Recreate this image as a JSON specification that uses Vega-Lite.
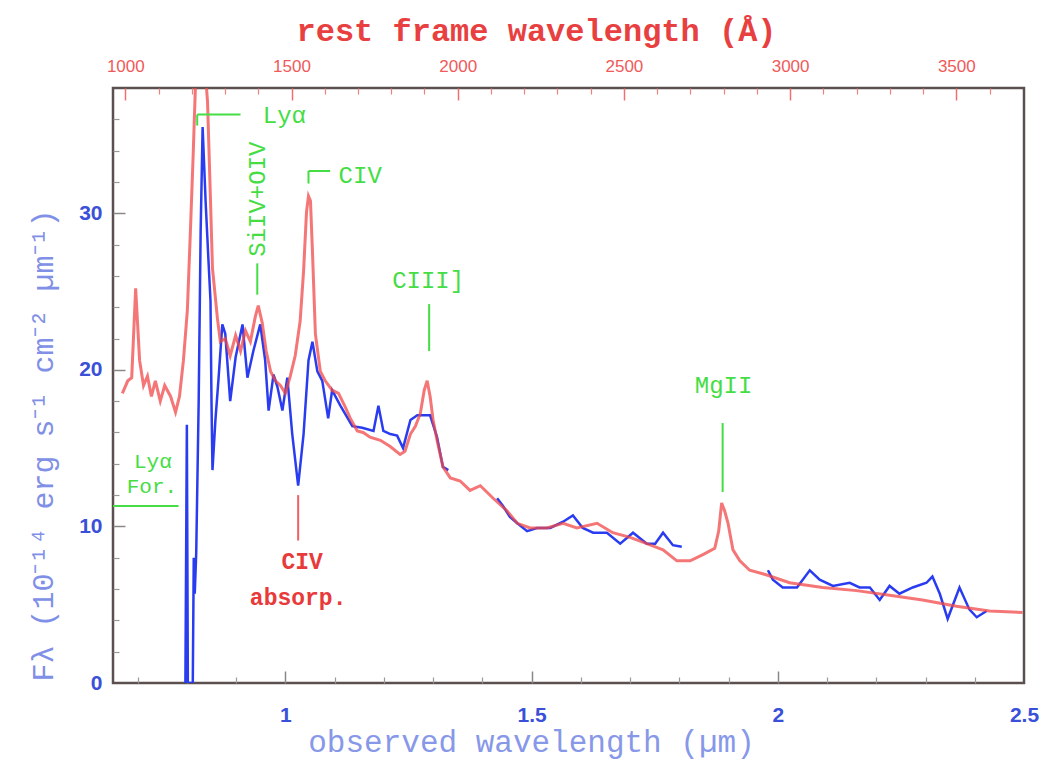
{
  "$schema": "https://vega.github.io/schema/vega-lite/v6.json",
  "width": 911,
  "height": 595,
  "autosize": "none",
  "padding": {"left": 113, "top": 88, "right": 15, "bottom": 78},
  "background": "white",
  "config": {"view": {"stroke": "#5b4f4f", "strokeWidth": 2.5}},
  "datasets": {
    "red": [
      {"w":0.669,"f":18.5},{"w":0.680,"f":19.3},{"w":0.688,"f":19.5},{"w":0.696,"f":25.2},{"w":0.704,"f":20.6},{"w":0.712,"f":19.0},{"w":0.720,"f":19.6},{"w":0.728,"f":18.3},{"w":0.736,"f":19.3},{"w":0.746,"f":18.0},{"w":0.755,"f":19.0},{"w":0.767,"f":18.3},{"w":0.777,"f":17.3},{"w":0.785,"f":18.3},{"w":0.793,"f":20.6},{"w":0.801,"f":23.8},{"w":0.807,"f":28.7},{"w":0.813,"f":33.9},{"w":0.819,"f":39.7},{"w":0.828,"f":41.0},{"w":0.836,"f":39.7},{"w":0.842,"f":37.1},{"w":0.848,"f":30.8},{"w":0.852,"f":26.5},{"w":0.862,"f":23.3},{"w":0.868,"f":21.8},{"w":0.878,"f":22.0},{"w":0.888,"f":20.9},{"w":0.899,"f":22.2},{"w":0.909,"f":21.2},{"w":0.919,"f":22.5},{"w":0.929,"f":21.8},{"w":0.939,"f":23.4},{"w":0.945,"f":24.1},{"w":0.953,"f":23.0},{"w":0.961,"f":21.2},{"w":0.970,"f":19.9},{"w":0.980,"f":19.3},{"w":0.990,"f":19.0},{"w":1.000,"f":18.5},{"w":1.010,"f":19.6},{"w":1.020,"f":20.9},{"w":1.030,"f":23.1},{"w":1.037,"f":26.3},{"w":1.043,"f":30.1},{"w":1.047,"f":31.1},{"w":1.051,"f":30.8},{"w":1.055,"f":27.6},{"w":1.061,"f":22.3},{"w":1.071,"f":19.9},{"w":1.081,"f":19.3},{"w":1.095,"f":18.7},{"w":1.108,"f":18.5},{"w":1.122,"f":17.6},{"w":1.132,"f":16.9},{"w":1.146,"f":16.1},{"w":1.158,"f":16.0},{"w":1.172,"f":15.7},{"w":1.193,"f":15.5},{"w":1.213,"f":15.1},{"w":1.233,"f":14.6},{"w":1.243,"f":14.8},{"w":1.254,"f":15.9},{"w":1.264,"f":16.4},{"w":1.274,"f":17.2},{"w":1.282,"f":18.7},{"w":1.288,"f":19.3},{"w":1.294,"f":18.3},{"w":1.300,"f":16.8},{"w":1.308,"f":15.5},{"w":1.320,"f":13.8},{"w":1.335,"f":13.1},{"w":1.355,"f":12.9},{"w":1.375,"f":12.3},{"w":1.396,"f":12.6},{"w":1.422,"f":11.8},{"w":1.450,"f":11.0},{"w":1.471,"f":10.2},{"w":1.497,"f":9.9},{"w":1.531,"f":9.9},{"w":1.564,"f":10.2},{"w":1.592,"f":9.9},{"w":1.633,"f":10.2},{"w":1.665,"f":9.6},{"w":1.700,"f":9.3},{"w":1.734,"f":8.9},{"w":1.767,"f":8.5},{"w":1.795,"f":7.8},{"w":1.822,"f":7.8},{"w":1.848,"f":8.2},{"w":1.872,"f":8.6},{"w":1.880,"f":9.7},{"w":1.886,"f":11.5},{"w":1.892,"f":11.0},{"w":1.899,"f":10.2},{"w":1.909,"f":8.5},{"w":1.923,"f":7.8},{"w":1.943,"f":7.2},{"w":1.978,"f":6.9},{"w":2.024,"f":6.4},{"w":2.091,"f":6.1},{"w":2.160,"f":5.9},{"w":2.227,"f":5.6},{"w":2.294,"f":5.3},{"w":2.363,"f":4.9},{"w":2.430,"f":4.6},{"w":2.497,"f":4.5}
    ],
    "blue": [
      {"w":0.797,"f":0,"seg":1},{"w":0.800,"f":16.5,"seg":1},{"w":0.802,"f":0,"seg":1},{"w":0.812,"f":0,"seg":1},{"w":0.814,"f":8.0,"seg":1},{"w":0.816,"f":5.7,"seg":1},{"w":0.819,"f":8.3,"seg":1},{"w":0.824,"f":18.0,"seg":1},{"w":0.828,"f":28.9,"seg":1},{"w":0.832,"f":35.5,"seg":1},{"w":0.838,"f":30.8,"seg":1},{"w":0.844,"f":26.9,"seg":1},{"w":0.848,"f":24.4,"seg":1},{"w":0.850,"f":18.0,"seg":1},{"w":0.852,"f":13.6,"seg":1},{"w":0.858,"f":16.8,"seg":1},{"w":0.864,"f":19.3,"seg":1},{"w":0.872,"f":22.9,"seg":1},{"w":0.878,"f":22.3,"seg":1},{"w":0.888,"f":18.0,"seg":1},{"w":0.899,"f":20.8,"seg":1},{"w":0.913,"f":22.9,"seg":1},{"w":0.923,"f":19.5,"seg":1},{"w":0.935,"f":21.2,"seg":1},{"w":0.949,"f":22.9,"seg":1},{"w":0.959,"f":20.6,"seg":1},{"w":0.966,"f":17.4,"seg":1},{"w":0.976,"f":19.7,"seg":1},{"w":0.984,"f":18.9,"seg":1},{"w":0.994,"f":17.4,"seg":1},{"w":1.004,"f":19.5,"seg":1},{"w":1.014,"f":15.9,"seg":1},{"w":1.026,"f":12.6,"seg":1},{"w":1.037,"f":15.9,"seg":1},{"w":1.047,"f":20.6,"seg":1},{"w":1.055,"f":21.8,"seg":1},{"w":1.065,"f":19.9,"seg":1},{"w":1.075,"f":19.3,"seg":1},{"w":1.087,"f":16.9,"seg":1},{"w":1.095,"f":18.7,"seg":1},{"w":1.112,"f":17.7,"seg":1},{"w":1.136,"f":16.4,"seg":1},{"w":1.156,"f":16.3,"seg":1},{"w":1.179,"f":16.1,"seg":1},{"w":1.189,"f":17.7,"seg":1},{"w":1.199,"f":16.1,"seg":1},{"w":1.213,"f":15.9,"seg":1},{"w":1.227,"f":15.8,"seg":1},{"w":1.239,"f":15.0,"seg":1},{"w":1.254,"f":16.8,"seg":1},{"w":1.268,"f":17.1,"seg":1},{"w":1.294,"f":17.1,"seg":1},{"w":1.308,"f":15.7,"seg":1},{"w":1.320,"f":13.8,"seg":1},{"w":1.331,"f":13.6,"seg":1},
      {"w":1.430,"f":11.8,"seg":2},{"w":1.442,"f":11.3,"seg":2},{"w":1.456,"f":10.6,"seg":2},{"w":1.471,"f":10.2,"seg":2},{"w":1.491,"f":9.7,"seg":2},{"w":1.511,"f":9.9,"seg":2},{"w":1.538,"f":9.9,"seg":2},{"w":1.564,"f":10.3,"seg":2},{"w":1.584,"f":10.7,"seg":2},{"w":1.604,"f":9.9,"seg":2},{"w":1.625,"f":9.6,"seg":2},{"w":1.653,"f":9.6,"seg":2},{"w":1.680,"f":8.9,"seg":2},{"w":1.706,"f":9.6,"seg":2},{"w":1.734,"f":8.9,"seg":2},{"w":1.751,"f":8.9,"seg":2},{"w":1.767,"f":9.6,"seg":2},{"w":1.787,"f":8.8,"seg":2},{"w":1.805,"f":8.7,"seg":2},
      {"w":1.980,"f":7.2,"seg":3},{"w":1.990,"f":6.6,"seg":3},{"w":2.010,"f":6.1,"seg":3},{"w":2.039,"f":6.1,"seg":3},{"w":2.065,"f":7.2,"seg":3},{"w":2.085,"f":6.6,"seg":3},{"w":2.112,"f":6.2,"seg":3},{"w":2.146,"f":6.4,"seg":3},{"w":2.166,"f":6.1,"seg":3},{"w":2.187,"f":6.1,"seg":3},{"w":2.207,"f":5.3,"seg":3},{"w":2.227,"f":6.2,"seg":3},{"w":2.247,"f":5.7,"seg":3},{"w":2.274,"f":6.1,"seg":3},{"w":2.302,"f":6.4,"seg":3},{"w":2.314,"f":6.8,"seg":3},{"w":2.329,"f":5.7,"seg":3},{"w":2.345,"f":4.1,"seg":3},{"w":2.369,"f":6.1,"seg":3},{"w":2.389,"f":4.7,"seg":3},{"w":2.404,"f":4.2,"seg":3},{"w":2.424,"f":4.6,"seg":3}
    ],
    "greenRules": [
      {"x1":0.821,"x2":0.909,"y1":36.3,"y2":36.3},
      {"x1":0.821,"x2":0.821,"y1":36.3,"y2":35.6},
      {"x1":0.943,"x2":0.943,"y1":26.8,"y2":24.8},
      {"x1":1.047,"x2":1.047,"y1":32.7,"y2":31.9},
      {"x1":1.047,"x2":1.091,"y1":32.7,"y2":32.7},
      {"x1":1.292,"x2":1.292,"y1":24.2,"y2":21.2},
      {"x1":1.888,"x2":1.888,"y1":16.6,"y2":12.2},
      {"x1":0.650,"x2":0.783,"y1":11.3,"y2":11.3}
    ],
    "greenText": [
      {"x":0.998,"y":36.2,"label":"Lyα"},
      {"x":1.152,"y":32.4,"label":"CIV"},
      {"x":1.290,"y":25.7,"label":"CIII]"},
      {"x":1.890,"y":19.0,"label":"MgII"}
    ],
    "forestText": [
      {"x":0.731,"y":14.1,"label":"Lyα"},
      {"x":0.729,"y":12.5,"label":"For."}
    ],
    "greenRotText": [
      {"x":0.945,"y":30.9,"label":"SiIV+OIV"}
    ],
    "redRules": [
      {"x1":1.026,"x2":1.026,"y1":12.0,"y2":9.1}
    ],
    "redText": [
      {"x":1.034,"y":7.7,"label":"CIV"},
      {"x":1.026,"y":5.4,"label":"absorp."}
    ]
  },
  "resolve": {"axis": {"x": "independent", "y": "independent"}},
  "layer": [
    {
      "data": {"name": "blue"},
      "mark": {"type": "line", "color": "#2a3cf0", "strokeWidth": 2.5, "clip": true},
      "encoding": {
        "x": {"field": "w", "type": "quantitative", "scale": {"domain": [0.65, 2.5], "nice": false, "zero": false},
          "axis": {"orient": "bottom", "values": [1, 1.5, 2, 2.5], "ticks": false, "domain": false, "grid": false,
            "labelFont": "Liberation Sans", "labelFontWeight": "bold", "labelFontSize": 21, "labelColor": "#3a50d8",
            "labelPadding": 21, "labelFlush": false, "labelExpr": "datum.value == 1 ? '1' : datum.value == 2 ? '2' : datum.label",
            "title": "observed wavelength (µm)", "titleFont": "Liberation Mono", "titleFontSize": 31, "titleFontWeight": "normal",
            "titleColor": "#8898e8", "titleX": 418, "titleY": 68, "titleAlign": "center", "titleBaseline": "alphabetic"}},
        "y": {"field": "f", "type": "quantitative", "scale": {"domain": [0, 38], "nice": false, "zero": false},
          "axis": {"orient": "left", "values": [0, 10, 20, 30], "ticks": false, "domain": false, "grid": false,
            "labelFont": "Liberation Sans", "labelFontWeight": "bold", "labelFontSize": 21, "labelColor": "#3a50d8",
            "labelPadding": 11, "labelFlush": false,
            "title": "Fλ (10⁻¹⁴ erg s⁻¹ cm⁻² µm⁻¹)", "titleFont": "Liberation Mono", "titleFontSize": 30, "titleFontWeight": "normal",
            "titleColor": "#8090e6", "titleX": -70, "titleY": 357, "titleAngle": 270, "titleAlign": "center", "titleBaseline": "middle"}},
        "detail": {"field": "seg"}
      }
    },
    {
      "data": {"name": "red"},
      "mark": {"type": "line", "color": "#f04848", "opacity": 0.75, "strokeWidth": 3, "clip": true},
      "encoding": {
        "x": {"field": "w", "type": "quantitative", "scale": {"domain": [0.65, 2.5], "nice": false, "zero": false},
          "axis": {"orient": "bottom", "values": [1, 1.5, 2], "labels": false, "domain": false, "grid": false, "title": null,
            "tickColor": "#888", "tickWidth": 1.5, "tickSize": -12}},
        "y": {"field": "f", "type": "quantitative", "scale": {"domain": [0, 38], "nice": false, "zero": false},
          "axis": {"orient": "left", "values": [10, 20, 30], "labels": false, "domain": false, "grid": false, "title": null,
            "tickColor": "#888", "tickWidth": 1.5, "tickSize": -12}}
      }
    },
    {
      "data": {"name": "greenRules"},
      "mark": {"type": "rule", "color": "#44dd44", "strokeWidth": 2},
      "encoding": {
        "x": {"field": "x1", "type": "quantitative", "scale": {"domain": [0.65, 2.5], "nice": false, "zero": false},
          "axis": {"orient": "bottom", "values": [0.7,0.8,0.9,1.1,1.2,1.3,1.4,1.6,1.7,1.8,1.9,2.1,2.2,2.3,2.4], "labels": false, "domain": false, "grid": false, "title": null,
            "tickColor": "#999", "tickWidth": 1.2, "tickSize": -6}},
        "x2": {"field": "x2"},
        "y": {"field": "y1", "type": "quantitative", "scale": {"domain": [0, 38], "nice": false, "zero": false},
          "axis": {"orient": "left", "values": [2,4,6,8,12,14,16,18,22,24,26,28,32,34,36], "labels": false, "domain": false, "grid": false, "title": null,
            "tickColor": "#999", "tickWidth": 1.2, "tickSize": -6}},
        "y2": {"field": "y2"}
      }
    },
    {
      "data": {"name": "greenText"},
      "mark": {"type": "text", "color": "#44dd44", "font": "Liberation Mono", "fontSize": 24, "align": "center", "baseline": "middle"},
      "encoding": {
        "x": {"field": "x", "type": "quantitative", "scale": {"domain": [0.65, 2.5], "nice": false, "zero": false},
          "axis": {"orient": "top", "values": [0.675, 1.0125, 1.35, 1.6875, 2.025, 2.3625], "ticks": false, "domain": false, "grid": false,
            "labelExpr": "format(datum.value*10000/6.75, '.0f')", "labelFont": "Liberation Sans", "labelFontSize": 17, "labelColor": "#f05a5a",
            "labelPadding": 13, "labelFlush": false,
            "title": "rest frame wavelength (Å)", "titleFont": "Liberation Mono", "titleFontSize": 32, "titleFontWeight": "bold",
            "titleColor": "#e84040", "titleX": 423, "titleY": -48, "titleAlign": "center", "titleBaseline": "alphabetic"}},
        "y": {"field": "y", "type": "quantitative", "scale": {"domain": [0, 38], "nice": false, "zero": false}, "axis": null},
        "text": {"field": "label"}
      }
    },
    {
      "data": {"name": "forestText"},
      "mark": {"type": "text", "color": "#44dd44", "font": "Liberation Mono", "fontSize": 21, "align": "center", "baseline": "middle"},
      "encoding": {
        "x": {"field": "x", "type": "quantitative", "scale": {"domain": [0.65, 2.5], "nice": false, "zero": false}, "axis": null},
        "y": {"field": "y", "type": "quantitative", "scale": {"domain": [0, 38], "nice": false, "zero": false}, "axis": null},
        "text": {"field": "label"}
      }
    },
    {
      "data": {"name": "greenRotText"},
      "mark": {"type": "text", "color": "#44dd44", "font": "Liberation Mono", "fontSize": 24, "align": "center", "baseline": "middle", "angle": 270},
      "encoding": {
        "x": {"field": "x", "type": "quantitative", "scale": {"domain": [0.65, 2.5], "nice": false, "zero": false}, "axis": null},
        "y": {"field": "y", "type": "quantitative", "scale": {"domain": [0, 38], "nice": false, "zero": false}, "axis": null},
        "text": {"field": "label"}
      }
    },
    {
      "data": {"name": "redRules"},
      "mark": {"type": "rule", "color": "#f06060", "strokeWidth": 2},
      "encoding": {
        "x": {"field": "x1", "type": "quantitative", "scale": {"domain": [0.65, 2.5], "nice": false, "zero": false},
          "axis": {"orient": "top", "values": [0.675, 1.0125, 1.35, 1.6875, 2.025, 2.3625], "labels": false, "domain": false, "grid": false, "title": null,
            "tickColor": "#f07070", "tickWidth": 1.5, "tickSize": -12}},
        "x2": {"field": "x2"},
        "y": {"field": "y1", "type": "quantitative", "scale": {"domain": [0, 38], "nice": false, "zero": false}, "axis": null},
        "y2": {"field": "y2"}
      }
    },
    {
      "data": {"name": "redText"},
      "mark": {"type": "text", "color": "#e83a3a", "font": "Liberation Mono", "fontWeight": "bold", "fontSize": 23, "align": "center", "baseline": "middle"},
      "encoding": {
        "x": {"field": "x", "type": "quantitative", "scale": {"domain": [0.65, 2.5], "nice": false, "zero": false},
          "axis": {"orient": "top", "values": [0.7425,0.81,0.8775,0.945,1.08,1.1475,1.215,1.2825,1.4175,1.485,1.5525,1.62,1.755,1.8225,1.89,1.9575,2.0925,2.16,2.2275,2.295,2.43], "labels": false, "domain": false, "grid": false, "title": null,
            "tickColor": "#f08080", "tickWidth": 1.2, "tickSize": -6}},
        "y": {"field": "y", "type": "quantitative", "scale": {"domain": [0, 38], "nice": false, "zero": false}, "axis": null},
        "text": {"field": "label"}
      }
    }
  ]
}
